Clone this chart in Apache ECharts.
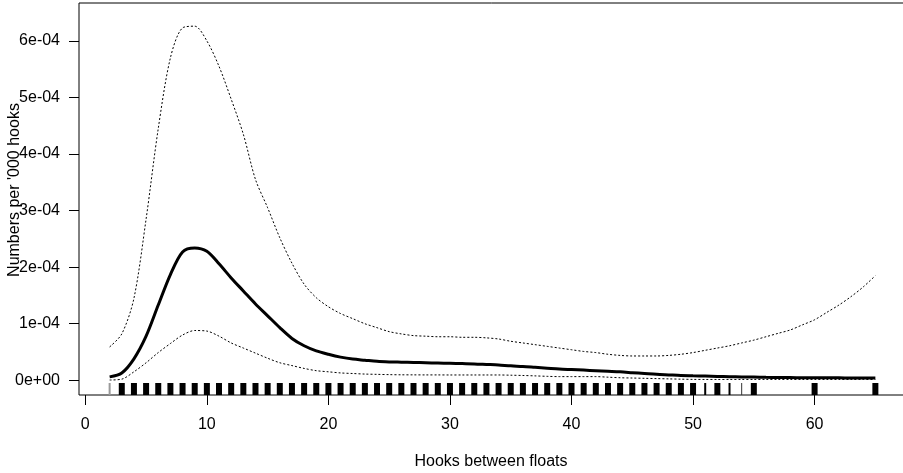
<!DOCTYPE html>
<html>
<head>
<meta charset="utf-8">
<script src="https://cdn.jsdelivr.net/npm/echarts@6/dist/echarts.min.js"></script>
<style>
html,body{margin:0;padding:0;background:#fff;}
#chart{width:903px;height:473px;}
</style>
</head>
<body>
<div id="chart"></div>
<script>
// Hooks between floats (x)
var hooks = [2,3,4,5,6,7,8,9,10,11,12,13,14,15,16,17,18,19,20,21,22,23,24,25,26,27,28,29,30,31,32,33,34,35,36,37,38,39,40,41,42,43,44,45,46,47,48,49,50,51,52,53,54,55,56,57,58,59,60,61,62,63,64,65];
// Values in units of 1e-04 numbers per '000 hooks
var meanRate = [0.06,0.13,0.38,0.78,1.33,1.87,2.27,2.34,2.28,2.06,1.81,1.58,1.35,1.14,0.93,0.74,0.61,0.52,0.46,0.41,0.375,0.355,0.335,0.325,0.32,0.315,0.31,0.305,0.30,0.295,0.29,0.28,0.27,0.255,0.245,0.23,0.215,0.20,0.19,0.18,0.17,0.16,0.15,0.135,0.12,0.105,0.095,0.085,0.08,0.075,0.068,0.063,0.06,0.057,0.053,0.05,0.048,0.046,0.045,0.044,0.043,0.042,0.041,0.04];
var upperCI = [0.59,0.82,1.45,2.85,4.45,5.70,6.23,6.26,6.00,5.55,4.97,4.35,3.55,3.05,2.52,2.07,1.70,1.46,1.30,1.18,1.09,1.00,0.93,0.86,0.82,0.79,0.78,0.77,0.77,0.76,0.76,0.75,0.73,0.69,0.66,0.63,0.60,0.57,0.54,0.51,0.49,0.46,0.44,0.43,0.43,0.43,0.44,0.46,0.49,0.53,0.57,0.61,0.66,0.71,0.77,0.83,0.89,0.98,1.07,1.20,1.33,1.48,1.65,1.85];
var lowerCI = [0.005,0.02,0.15,0.31,0.49,0.65,0.80,0.88,0.87,0.78,0.66,0.57,0.48,0.39,0.31,0.26,0.21,0.17,0.15,0.13,0.12,0.11,0.105,0.10,0.097,0.096,0.095,0.095,0.094,0.094,0.094,0.094,0.094,0.09,0.085,0.078,0.07,0.065,0.065,0.065,0.065,0.055,0.045,0.04,0.035,0.03,0.025,0.02,0.016,0.015,0.015,0.015,0.015,0.015,0.015,0.015,0.015,0.015,0.015,0.015,0.015,0.015,0.015,0.015];
// Rug of observed hooks-between-floats values
var rugDense = [3,4,5,6,7,8,9,10,11,12,13,14,15,16,17,18,19,20,21,22,23,24,25,26,27,28,29,30,31,32,33,34,35,36,37,38,39,40,41,42,43,44,45,46,47,48,49,50,52,55,60,65];
var rugNarrow = [51,53];
var rugSingle = [54];
var rugGrey = [2];
// Tick labels
var xTicks = [0,10,20,30,40,50,60];
var yTicks = [0,1,2,3,4,5,6];
var yTickLabels = ['0e+00','1e-04','2e-04','3e-04','4e-04','5e-04','6e-04'];

var FONT = '"Liberation Sans", Arial, sans-serif';
var Y_MIN = -0.26, Y_MAX = 6.67;

function pairs(ys){ return hooks.map(function(x,i){ return [x, ys[i]]; }); }
function rugSeries(vals, w, color){
  return {
    type:'custom', silent:true, clip:false,
    data: vals.map(function(v){ return [v]; }),
    renderItem: function(params, api){
      var p = api.coord([api.value(0), Y_MIN]);
      return {type:'rect', shape:{x:p[0]-w/2, y:p[1]-12, width:w, height:12}, style:{fill:color}};
    }
  };
}

var chart = echarts.init(document.getElementById('chart'), null, {renderer:'canvas'});
chart.setOption({
  animation:false,
  backgroundColor:'#fff',
  grid:{left:79, top:3, width:827, height:392, outerBoundsMode:'none', containLabel:false,
        show:true, borderColor:'#000', borderWidth:1, backgroundColor:'transparent'},
  xAxis:{
    type:'value', min:-0.52, max:67.52,
    axisLine:{show:false, onZero:false},
    splitLine:{show:false},
    axisTick:{show:true, inside:false, length:10, customValues:xTicks, lineStyle:{color:'#000', width:1}},
    axisLabel:{show:true, customValues:xTicks, margin:22, color:'#000', fontSize:16, fontFamily:FONT}
  },
  yAxis:{
    type:'value', min:Y_MIN, max:Y_MAX,
    axisLine:{show:false, onZero:false},
    splitLine:{show:false},
    axisTick:{show:true, inside:false, length:10, customValues:yTicks, lineStyle:{color:'#000', width:1}},
    axisLabel:{show:true, customValues:yTicks, margin:19, color:'#000', fontSize:16, fontFamily:FONT,
      formatter:function(v){ var i = yTicks.indexOf(Math.round(v)); return i>=0 ? yTickLabels[i] : ''; }}
  },
  graphic:[
    {type:'text', x:15, y:190, rotation:Math.PI/2, style:{text:"Numbers per '000 hooks", fill:'#000', font:'16px '+FONT, textAlign:'center', textVerticalAlign:'middle'}},
    {type:'text', x:491, y:462, style:{text:'Hooks between floats', fill:'#000', font:'16px '+FONT, textAlign:'center', textVerticalAlign:'middle'}}
  ],
  series:[
    rugSeries(rugDense, 6, '#000'),
    rugSeries(rugNarrow, 2, '#000'),
    rugSeries(rugSingle, 1, '#333'),
    rugSeries(rugGrey, 2, '#999'),
    {type:'line', data:pairs(upperCI), showSymbol:false, smooth:0.3, lineStyle:{color:'#000', width:1, type:[2,2]}},
    {type:'line', data:pairs(lowerCI), showSymbol:false, smooth:0.3, lineStyle:{color:'#000', width:1, type:[2,2]}},
    {type:'line', data:pairs(meanRate), showSymbol:false, smooth:0.3, lineStyle:{color:'#000', width:3}}
  ]
});
</script>
</body>
</html>
